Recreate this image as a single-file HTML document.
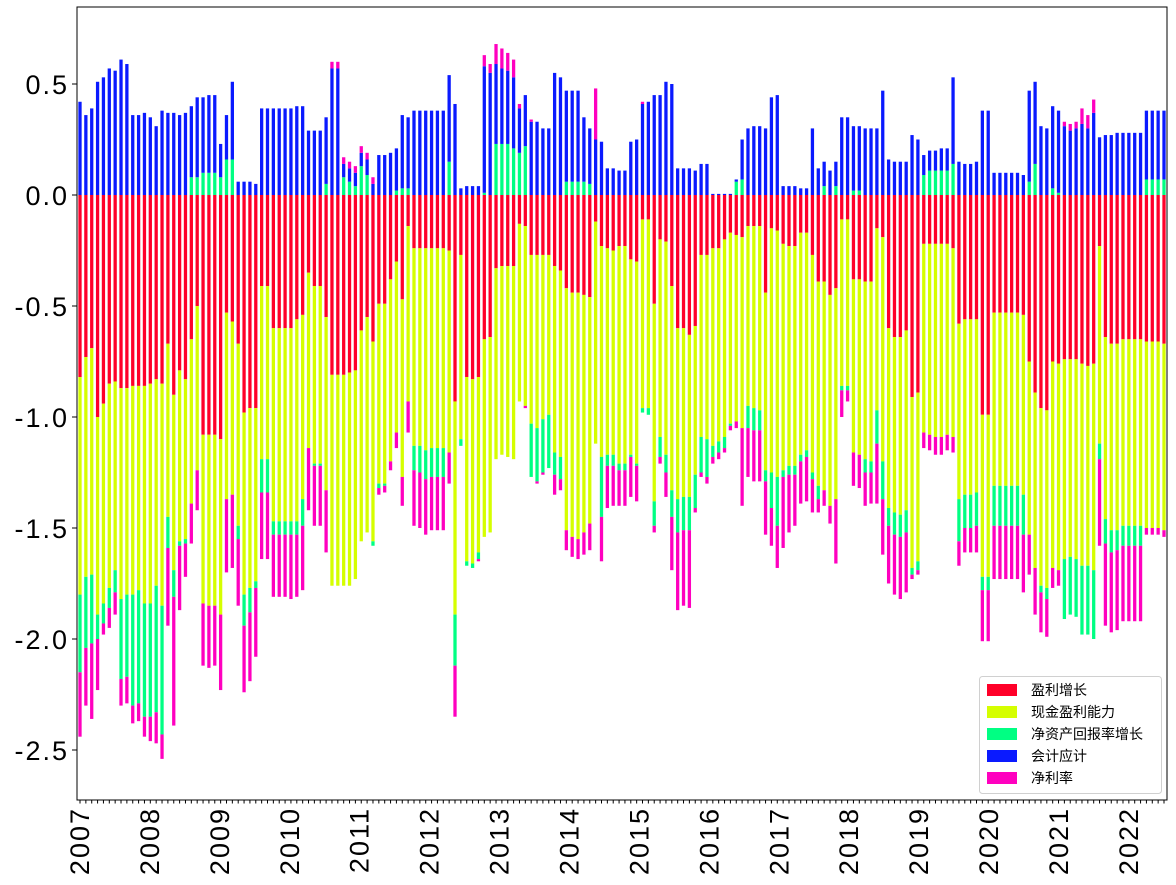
<!DOCTYPE html>
<html><head><meta charset="utf-8">
<style>
html,body{margin:0;padding:0;background:#fff;}
svg{display:block;}
.tk{font-family:"Liberation Sans","Noto Sans CJK SC",sans-serif;font-size:27px;fill:#000;letter-spacing:2px;}
.lg{font-family:"Liberation Sans","Noto Sans CJK SC",sans-serif;font-size:14px;fill:#000;}
</style></head>
<body>
<svg id="chart" width="1176" height="885" viewBox="0 0 1176 885" xmlns="http://www.w3.org/2000/svg">
<g id="bars"></g>
<g id="axes"></g>
<g id="legend"></g>
</svg>
<script>
const seriesNames = ["盈利增长","现金盈利能力","净资产回报率增长","会计应计","净利率"];
const seriesColors = ["#ff0029","#d5ff00","#00ff83","#0a1aff","#ff00bf"];
const yTicks = [0.5,0.0,-0.5,-1.0,-1.5,-2.0,-2.5];
const yTickLabels = ["0.5","0.0","-0.5","-1.0","-1.5","-2.0","-2.5"];
const yearLabels = ["2007","2008","2009","2010","2011","2012","2013","2014","2015","2016","2017","2018","2019","2020","2021","2022"];

const profitGrowth = [
-0.82,-0.73,-0.69,-1.00,-0.94,-0.85,-0.84,-0.87,-0.87,-0.86,
-0.86,-0.86,-0.85,-0.83,-0.85,-0.67,-0.90,-0.79,-0.83,-0.65,
-0.50,-1.08,-1.08,-1.08,-1.10,-0.53,-0.57,-0.67,-0.98,-0.96,
-0.96,-0.41,-0.41,-0.60,-0.60,-0.60,-0.60,-0.56,-0.54,-0.35,
-0.41,-0.41,-0.55,-0.81,-0.81,-0.81,-0.80,-0.79,-0.61,-0.55,
-0.66,-0.49,-0.49,-0.38,-0.30,-0.47,-0.14,-0.24,-0.24,-0.24,
-0.24,-0.24,-0.24,-0.25,-0.93,-0.27,-0.82,-0.83,-0.82,
-0.65,-0.64,-0.33,-0.32,-0.32,-0.32,-0.13,-0.14,-0.27,-0.27,
-0.27,-0.27,-0.32,-0.34,-0.42,-0.44,-0.44,-0.45,-0.46,-0.12,
-0.23,-0.24,-0.25,-0.23,-0.23,
-0.29,-0.30,-0.11,-0.11,-0.49,-0.20,-0.21,-0.41,-0.60,-0.60,
-0.63,-0.59,-0.27,-0.27,-0.24,-0.24,-0.20,-0.17,-0.18,-0.19,
-0.14,-0.14,-0.14,-0.44,-0.15,-0.16,-0.22,-0.23,-0.23,-0.17,
-0.17,-0.27,-0.39,-0.39,-0.45,-0.42,-0.11,-0.11,-0.38,-0.38,
-0.39,-0.39,-0.15,-0.19,-0.60,-0.64,-0.64,-0.61,-0.91,-0.89,
-0.22,-0.22,-0.22,-0.22,-0.22,-0.24,-0.58,-0.56,-0.56,-0.56,
-0.99,-0.99,-0.53,-0.53,-0.53,-0.53,-0.53,-0.54,-0.75,-0.89,
-0.96,-0.97,-0.75,-0.76,-0.74,-0.74,-0.74,-0.76,-0.77,-0.76,
-0.23,-0.64,-0.67,-0.67,-0.65,-0.65,-0.65,-0.65,-0.66,-0.66,-0.66,-0.67];

const cashProfit = [
-0.98,-0.99,-1.02,-0.89,-0.90,-0.92,-0.85,-0.95,-0.93,-0.94,
-0.92,-0.98,-0.99,-0.93,-1.00,-0.78,-0.79,-0.77,-0.72,-0.74,
-0.74,-0.76,-0.77,-0.77,-0.79,-0.84,-0.78,-0.82,-0.82,-0.81,
-0.78,-0.78,-0.78,-0.87,-0.87,-0.87,-0.87,-0.91,-0.83,-0.79,
-0.80,-0.80,-0.78,-0.95,-0.95,-0.95,-0.96,-0.94,-0.95,-0.97,
-0.90,-0.81,-0.81,-0.82,-0.77,-0.80,-0.79,-0.89,-0.89,-0.91,
-0.90,-0.90,-0.90,-0.91,-0.96,-0.83,-0.83,-0.83,-0.79,
-0.89,-0.88,-0.86,-0.85,-0.86,-0.87,-0.80,-0.81,-0.76,-0.78,
-0.74,-0.72,-0.84,-0.84,-1.09,-1.10,-1.11,-1.07,-1.02,-1.00,
-0.95,-0.93,-0.92,-0.98,-0.98,
-0.88,-0.91,-0.85,-0.85,-0.89,-0.89,-0.96,-0.92,-0.77,-0.76,
-0.73,-0.67,-0.82,-0.83,-0.89,-0.87,-0.89,-0.86,-0.84,-0.86,
-0.81,-0.82,-0.83,-0.80,-1.10,-1.11,-1.02,-0.99,-0.99,-1.00,
-0.98,-0.98,-0.92,-0.94,-0.95,-0.95,-0.75,-0.75,-0.78,-0.79,
-0.80,-0.81,-0.82,-1.01,-0.81,-0.79,-0.80,-0.81,-0.77,-0.76,
-0.85,-0.86,-0.87,-0.87,-0.86,-0.85,-0.79,-0.79,-0.79,-0.78,
-0.73,-0.73,-0.78,-0.78,-0.78,-0.78,-0.78,-0.81,-0.78,-0.79,
-0.80,-0.80,-0.93,-0.93,-0.90,-0.89,-0.90,-0.91,-0.90,-0.93,
-0.89,-0.82,-0.84,-0.84,-0.84,-0.84,-0.84,-0.84,-0.84,-0.84,-0.84,-0.84];

const roeGrowth = [
-0.35,-0.32,-0.31,-0.11,-0.09,-0.09,-0.10,-0.36,-0.37,-0.50,
-0.51,-0.51,-0.51,-0.57,-0.58,-0.14,-0.12,-0.02,-0.02,0.08,
0.08,0.10,0.10,0.10,0.08,0.16,0.16,-0.06,-0.14,-0.11,
-0.03,-0.15,-0.15,-0.06,-0.06,-0.06,-0.06,-0.06,-0.12,0,
-0.01,-0.01,0.05,0,0,0.08,0.06,0.04,0.13,0.09,
-0.02,-0.02,-0.01,0,0.02,0.03,0.03,-0.11,-0.12,-0.13,
-0.13,-0.13,-0.13,0.15,-0.23,-0.03,-0.02,-0.02,-0.03,
0.01,0,0.23,0.23,0.23,0.21,0.19,0.22,-0.24,-0.24,
-0.24,-0.24,-0.10,-0.10,0.06,0.06,0.06,0.06,0.05,0,
-0.27,-0.05,-0.05,-0.03,-0.03,
-0.01,-0.01,-0.02,-0.03,-0.11,-0.09,-0.08,-0.12,-0.15,-0.15,
-0.15,-0.15,-0.16,-0.17,-0.05,-0.05,-0.05,-0.01,0.06,0.07,
-0.10,-0.10,-0.09,-0.05,-0.16,-0.22,-0.03,-0.04,-0.04,-0.03,
-0.03,-0.03,-0.06,0.04,0,0.04,-0.02,-0.02,0.02,0.02,
-0.06,-0.05,-0.15,-0.17,-0.08,-0.10,-0.10,-0.10,-0.03,-0.04,
0.09,0.11,0.11,0.11,0.11,0.14,-0.19,-0.15,-0.15,-0.15,
-0.06,-0.06,-0.18,-0.18,-0.18,-0.18,-0.18,-0.18,0.06,0.14,
-0.03,-0.05,0.03,0.01,-0.27,-0.26,-0.26,-0.31,-0.31,-0.31,
-0.07,-0.11,-0.10,-0.09,-0.09,-0.09,-0.09,-0.09,0.07,0.07,0.07,0.07];

const accruals = [
0.42,0.36,0.39,0.51,0.53,0.57,0.56,0.61,0.59,0.36,
0.36,0.37,0.35,0.31,0.38,0.37,0.37,0.36,0.37,0.32,
0.36,0.34,0.35,0.35,0.15,0.20,0.35,0.06,0.06,0.06,
0.05,0.39,0.39,0.39,0.39,0.39,0.39,0.40,0.40,0.29,
0.29,0.29,0.30,0.57,0.57,0.06,0.06,0.06,0.06,0.07,
0.05,0.18,0.18,0.19,0.19,0.33,0.32,0.38,0.38,0.38,
0.38,0.38,0.38,0.39,0.41,0.03,0.04,0.04,0.04,
0.57,0.55,0.36,0.34,0.33,0.32,0.20,0.23,0.33,0.33,
0.30,0.30,0.55,0.53,0.41,0.41,0.41,0.29,0.25,0.25,
0.24,0.12,0.12,0.11,0.11,
0.24,0.25,0.41,0.42,0.45,0.45,0.51,0.50,0.12,0.12,
0.12,0.11,0.14,0.14,0.005,0.005,0.005,0.005,0.01,0.18,
0.30,0.31,0.31,0.30,0.44,0.45,0.04,0.04,0.04,0.03,
0.03,0.30,0.12,0.11,0.11,0.11,0.35,0.35,0.29,0.29,
0.30,0.30,0.30,0.47,0.16,0.15,0.15,0.15,0.27,0.25,
0.09,0.09,0.09,0.10,0.10,0.39,0.15,0.14,0.14,0.15,
0.38,0.38,0.10,0.10,0.10,0.10,0.10,0.09,0.41,0.37,
0.31,0.30,0.37,0.37,0.31,0.29,0.30,0.32,0.30,0.37,
0.26,0.27,0.27,0.28,0.28,0.28,0.28,0.28,0.31,0.31,0.31,0.31];

const netMargin = [
-0.29,-0.26,-0.34,-0.23,-0.05,-0.09,-0.10,-0.12,-0.12,-0.08,
-0.08,-0.09,-0.11,-0.14,-0.11,-0.35,-0.58,-0.29,-0.15,-0.18,
-0.18,-0.28,-0.28,-0.27,-0.34,-0.33,-0.33,-0.30,-0.30,-0.31,
-0.31,-0.30,-0.30,-0.28,-0.28,-0.28,-0.29,-0.28,-0.29,-0.28,
-0.27,-0.27,-0.28,0.03,0.03,0.03,0.03,0.03,0.03,0.03,
0.03,-0.03,-0.03,-0.04,-0.07,-0.13,-0.14,-0.25,-0.25,-0.25,
-0.24,-0.24,-0.24,-0.14,-0.23,0,0,0,-0.01,
0.05,0.04,0.09,0.09,0.08,0.08,0.02,-0.01,0.01,-0.01,
-0.01,0,-0.09,-0.05,-0.09,-0.09,-0.09,-0.10,-0.12,0.23,
-0.20,-0.19,-0.18,-0.16,-0.16,
-0.18,-0.16,0.01,0,-0.03,-0.03,-0.11,-0.24,-0.35,-0.34,
-0.35,-0.02,-0.02,-0.03,-0.03,-0.03,-0.02,-0.02,-0.03,-0.35,
-0.22,-0.23,-0.23,-0.24,-0.17,-0.19,-0.32,-0.26,-0.23,-0.19,
-0.20,-0.15,-0.06,-0.07,-0.08,-0.29,-0.12,-0.05,-0.15,-0.15,
-0.15,-0.14,-0.27,-0.25,-0.26,-0.27,-0.28,-0.27,-0.02,-0.02,
-0.07,-0.07,-0.08,-0.08,-0.07,-0.07,-0.11,-0.11,-0.11,-0.12,
-0.23,-0.23,-0.24,-0.24,-0.24,-0.24,-0.24,-0.26,-0.18,-0.21,
-0.18,-0.17,-0.09,-0.07,0.02,0.03,0.03,0.07,0.06,0.06,
-0.39,-0.37,-0.36,-0.36,-0.34,-0.34,-0.34,-0.34,-0.03,-0.03,-0.03,-0.03];

const NS = "http://www.w3.org/2000/svg";
const PL = 77, PR = 1167, PT = 7, PB = 800;
const Y0 = 195, PXU = 222;
const X_FIRST = 80, X_LAST = 1164;
const series = [profitGrowth, cashProfit, roeGrowth, accruals, netMargin];
const N = profitGrowth.length;
const step = (X_LAST - X_FIRST) / (N - 1);
const barW = step * 0.56;
function xScale(i){ return X_FIRST + i * step; }
function yScale(v){ return Y0 - v * PXU; }
function yearX(k){ return 79 + k * 69.93; }
function mk(tag, attrs){ const e = document.createElementNS(NS, tag); for (const k in attrs) e.setAttribute(k, attrs[k]); return e; }

const gb = document.getElementById('bars');
for (let i = 0; i < N; i++) {
  let pos = 0, neg = 0;
  for (let s = 0; s < series.length; s++) {
    const v = series[s][i];
    if (!v) continue;
    let a, b;
    if (v > 0) { a = pos; b = pos + v; pos = b; } else { a = neg; b = neg + v; neg = b; }
    const y1 = yScale(Math.max(a, b)), y2 = yScale(Math.min(a, b));
    const r = mk('rect', {x: xScale(i) - barW / 2, y: y1, width: barW, height: Math.max(0.5, y2 - y1), fill: seriesColors[s]});
    
    
    gb.appendChild(r);
  }
}

const ga = document.getElementById('axes');
const frame = mk('rect', {x: PL, y: PT, width: PR - PL, height: PB - PT, fill: 'none', stroke: '#000', 'stroke-width': 1});


ga.appendChild(frame);

for (let k = 0; k < yTicks.length; k++) {
  const y = yScale(yTicks[k]);
  const t = mk('line', {x1: PL - 5, x2: PL, y1: y, y2: y, stroke: '#000', 'stroke-width': 1});
  
  
  ga.appendChild(t);
  const l = mk('text', {x: PL - 8, y: y + 10, 'text-anchor': 'end', class: 'tk'});
  l.textContent = yTickLabels[k];
  
  
  ga.appendChild(l);
}

for (let i = 0; i < N; i++) {
  const x = xScale(i);
  const t = mk('line', {x1: x, x2: x, y1: PB, y2: PB + 3.5, stroke: '#000', 'stroke-width': 1});
  
  
  ga.appendChild(t);
}
for (let k = 0; k < yearLabels.length; k++) {
  const x = yearX(k);
  const l = mk('text', {x: 0, y: 0, 'text-anchor': 'end', class: 'tk', transform: 'translate(' + (x + 10) + ',' + (PB + 7) + ') rotate(-90)'});
  l.textContent = yearLabels[k];
  
  
  ga.appendChild(l);
}

const gl = document.getElementById('legend');
const box = mk('rect', {x: 979.5, y: 676.5, width: 182, height: 117, rx: 3, fill: '#fff', stroke: '#d0d0d0', 'stroke-width': 1, 'fill-opacity': 0.85});


gl.appendChild(box);
for (let s = 0; s < seriesNames.length; s++) {
  const cy = 690 + s * 22;
  const p = mk('rect', {x: 987, y: cy - 6, width: 30, height: 12, fill: seriesColors[s]});
  
  
  gl.appendChild(p);
  const t = mk('text', {x: 1031, y: cy + 5, class: 'lg'});
  t.textContent = seriesNames[s];
  
  
  gl.appendChild(t);
}
</script>
</body></html>
